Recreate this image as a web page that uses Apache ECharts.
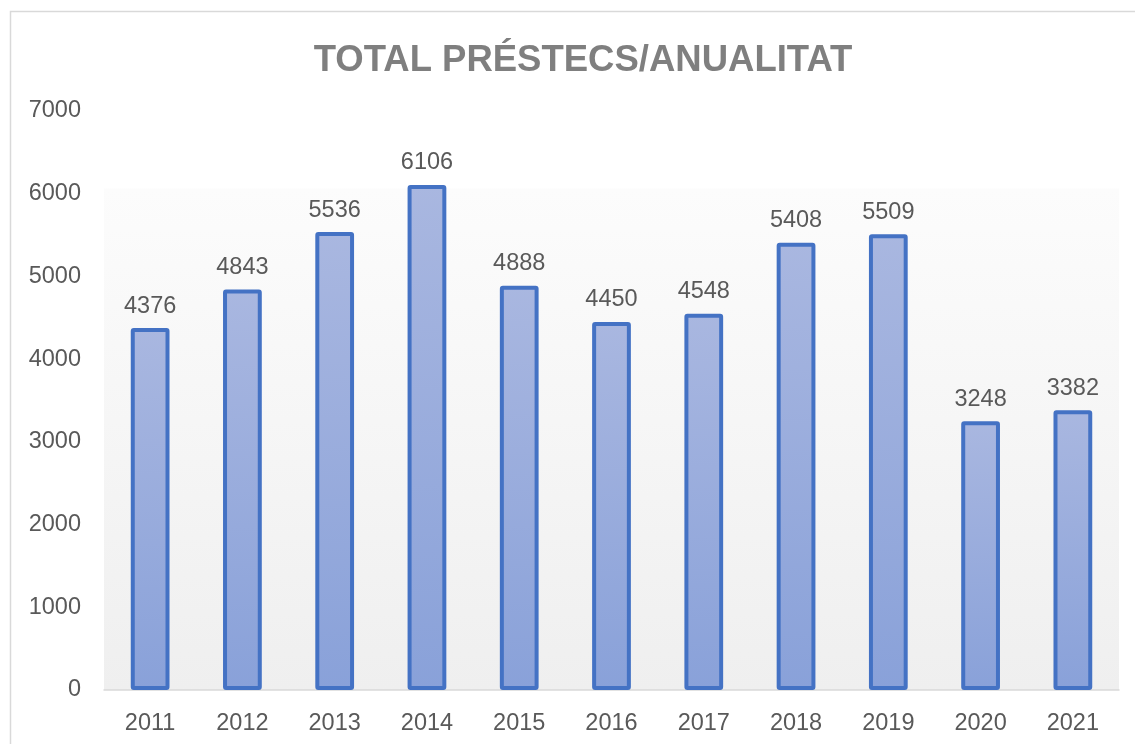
<!DOCTYPE html>
<html>
<head>
<meta charset="utf-8">
<script src="https://cdn.jsdelivr.net/npm/echarts@6/dist/echarts.min.js"></script>
<style>
html,body{margin:0;padding:0;background:#fff;}
#c{width:1135px;height:744px;}
</style>
</head>
<body>
<div id="c"></div>
<script>
var titleText = 'TOTAL PRÉSTECS/ANUALITAT';
var categories = ['2011','2012','2013','2014','2015','2016','2017','2018','2019','2020','2021'];
var values = [4376, 4843, 5536, 6106, 4888, 4450, 4548, 5408, 5509, 3248, 3382];
var yMin = 0, yMax = 7000, yStep = 1000;

var chart = echarts.init(document.getElementById('c'), null, {renderer:'canvas'});
var font = '"Liberation Sans", Arial, sans-serif';
chart.setOption({
  animation:false,
  backgroundColor:'#ffffff',
  graphic:[{
    type:'rect', z:-10, silent:true,
    shape:{x:10.5, y:11.5, width:1300, height:900},
    style:{fill:'none', stroke:'#d9d9d9', lineWidth:1.5}
  }],
  title:{
    text:titleText, left:578, top:37, textAlign:'center',
    textStyle:{fontFamily:font, fontSize:36.5, fontWeight:'bold', color:'#7f7f7f'}
  },
  grid:{
    left:104, right:16, top:111, bottom:54, show:true, borderWidth:0,
    backgroundColor:{type:'linear', x:0, y:0, x2:0, y2:1, colorStops:[
      {offset:0, color:'#ffffff'},{offset:0.133, color:'#ffffff'},
      {offset:0.135, color:'#fcfcfc'},{offset:1, color:'#efefef'}]}
  },
  xAxis:{
    type:'category', data:categories,
    axisLine:{lineStyle:{color:'#d9d9d9', width:1.5}},
    axisTick:{show:false},
    axisLabel:{fontFamily:font, fontSize:23.5, color:'#595959', margin:22}
  },
  yAxis:{
    type:'value', min:yMin, max:yMax, interval:yStep,
    splitLine:{show:false}, axisLine:{show:false}, axisTick:{show:false},
    axisLabel:{fontFamily:font, fontSize:23.5, color:'#595959', margin:23,
      formatter:function(v){return String(v);}}
  },
  series:[{
    type:'bar', data:values, barWidth:'42%',
    itemStyle:{
      color:{type:'linear', x:0, y:0, x2:0, y2:1, global:false, colorStops:[
        {offset:0, color:'#a9b7e0'},{offset:1, color:'#89a1d9'}]},
      borderColor:'#4472c4', borderWidth:4, borderRadius:1
    },
    label:{show:true, position:'top', distance:10, fontFamily:font, fontSize:23.5, color:'#595959'}
  }]
});
</script>
</body>
</html>
